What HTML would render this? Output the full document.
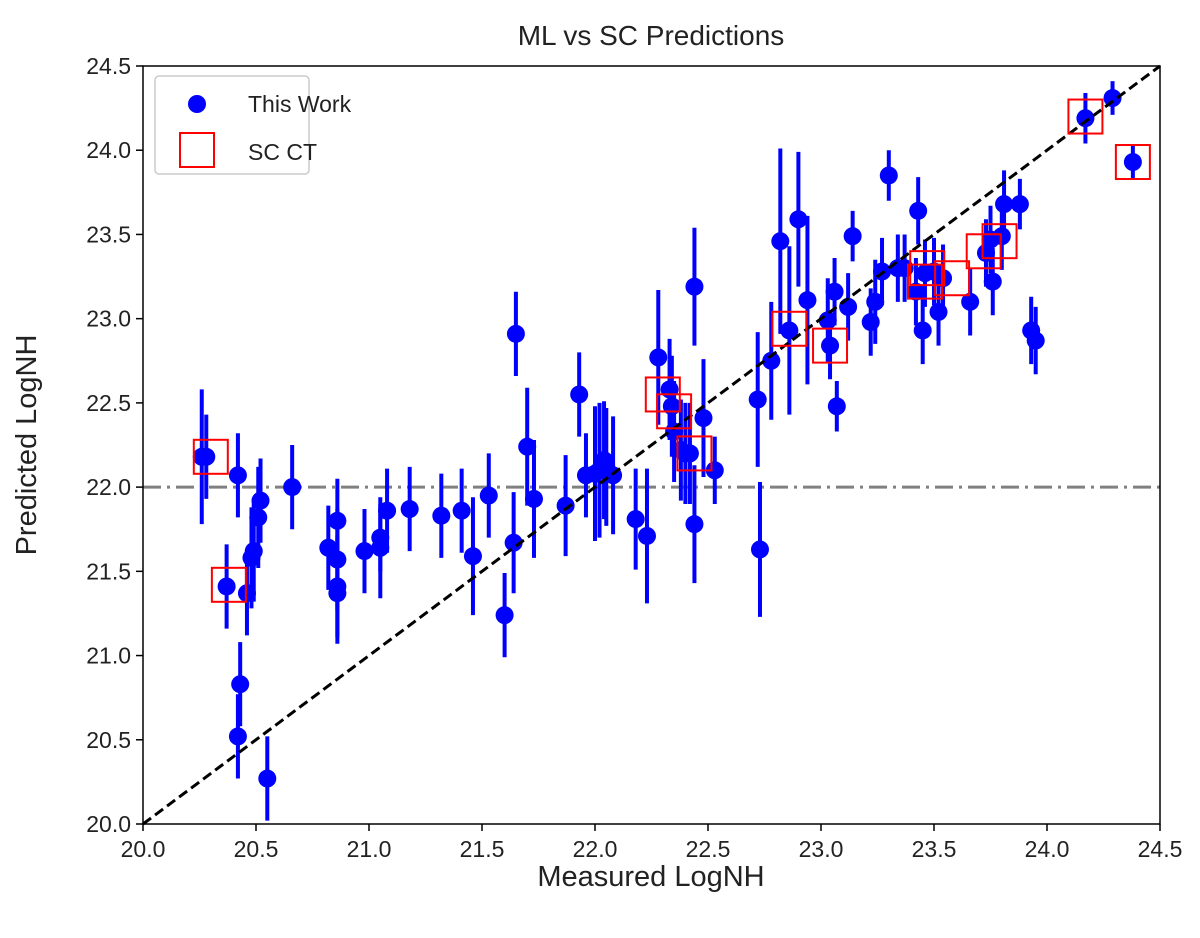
<!DOCTYPE html>
<html><head><meta charset="utf-8"><style>
body{margin:0;background:#fff}
svg text{font-family:"Liberation Sans","DejaVu Sans",sans-serif;fill:#222}
</style></head><body>
<svg id="chart" width="1200" height="933">
<text x="651" y="45" font-size="28" text-anchor="middle">ML vs SC Predictions</text>
<text x="651" y="886" font-size="29" text-anchor="middle">Measured LogNH</text>
<text transform="translate(36,445) rotate(-90)" font-size="29" text-anchor="middle">Predicted LogNH</text>
<g id="ticks"></g><g id="marks"></g>
<rect x="143" y="66" width="1017" height="758" fill="none" stroke="#000" stroke-width="1.5"/>
<g>
<rect x="155" y="76" width="154" height="98" rx="4" fill="#fff" stroke="#ccc" stroke-width="1.5"/>
<circle cx="197" cy="104" r="9" fill="#0000ff"/>
<text x="248" y="112" font-size="23">This Work</text>
<rect x="180" y="133" width="34" height="34" fill="none" stroke="#ff0000" stroke-width="2"/>
<text x="248" y="160" font-size="23">SC CT</text>
</g>
</svg>
<script>
const xTicks=[20.0,20.5,21.0,21.5,22.0,22.5,23.0,23.5,24.0,24.5];
const yTicks=[20.0,20.5,21.0,21.5,22.0,22.5,23.0,23.5,24.0,24.5];
const measured=[20.26,20.28,20.37,20.42,20.42,20.43,20.46,20.48,20.49,20.51,20.52,20.55,20.66,20.82,20.86,20.86,20.86,20.86,20.98,21.05,21.05,21.08,21.18,21.32,21.41,21.46,21.53,21.60,21.64,21.65,21.70,21.73,21.87,21.93,21.96,22.0,22.02,22.04,22.05,22.08,22.18,22.23,22.28,22.33,22.34,22.35,22.38,22.40,22.42,22.44,22.44,22.48,22.53,22.72,22.73,22.78,22.82,22.86,22.90,22.94,23.03,23.04,23.06,23.07,23.12,23.14,23.22,23.24,23.27,23.30,23.34,23.37,23.42,23.43,23.45,23.46,23.50,23.52,23.54,23.66,23.73,23.75,23.76,23.80,23.81,23.88,23.93,23.95,24.17,24.29,24.38];
const predicted=[22.18,22.18,21.41,22.07,20.52,20.83,21.37,21.58,21.62,21.82,21.92,20.27,22.0,21.64,21.80,21.57,21.41,21.37,21.62,21.64,21.70,21.86,21.87,21.83,21.86,21.59,21.95,21.24,21.67,22.91,22.24,21.93,21.89,22.55,22.07,22.08,22.10,22.16,22.12,22.07,21.81,21.71,22.77,22.58,22.48,22.33,22.22,22.20,22.20,23.19,21.78,22.41,22.10,22.52,21.63,22.75,23.46,22.93,23.59,23.11,22.99,22.84,23.16,22.48,23.07,23.49,22.98,23.10,23.28,23.85,23.30,23.30,23.16,23.64,22.93,23.27,23.28,23.04,23.24,23.10,23.39,23.47,23.22,23.49,23.68,23.68,22.93,22.87,24.19,24.31,23.93];
const errs=[0.4,0.25,0.25,0.25,0.25,0.25,0.25,0.3,0.3,0.3,0.25,0.25,0.25,0.25,0.25,0.3,0.3,0.3,0.25,0.3,0.2,0.25,0.25,0.25,0.25,0.35,0.25,0.25,0.3,0.25,0.35,0.35,0.3,0.25,0.25,0.4,0.4,0.35,0.35,0.35,0.3,0.4,0.4,0.3,0.3,0.3,0.3,0.3,0.3,0.35,0.35,0.35,0.2,0.4,0.4,0.35,0.55,0.5,0.4,0.5,0.25,0.2,0.2,0.15,0.2,0.15,0.2,0.25,0.2,0.15,0.2,0.2,0.2,0.2,0.2,0.2,0.2,0.2,0.2,0.2,0.2,0.2,0.2,0.2,0.2,0.15,0.2,0.2,0.15,0.1,0.1];
const scMeasured=[20.30,20.38,22.30,22.35,22.44,22.86,23.04,23.47,23.46,23.58,23.72,23.79,24.17,24.38];
const scPredicted=[22.18,21.42,22.55,22.45,22.20,22.94,22.84,23.30,23.22,23.24,23.40,23.46,24.20,23.93];
const NS='http://www.w3.org/2000/svg';
const X=v=>143+(v-20)*(1017/4.5);
const Y=v=>824-(v-20)*(758/4.5);
function mk(tag,attrs,parent){const e=document.createElementNS(NS,tag);for(const k in attrs)e.setAttribute(k,attrs[k]);parent.appendChild(e);return e;}
const tg=document.getElementById('ticks');
xTicks.forEach(t=>{
  const l=mk('line',{x1:X(t),x2:X(t),y1:824,y2:831,stroke:'#000','stroke-width':1.5},tg);
  
  
  const tx=mk('text',{x:X(t),y:857,'font-size':23,'text-anchor':'middle'},tg);tx.textContent=t.toFixed(1);
  
  
});
yTicks.forEach(t=>{
  const l=mk('line',{x1:136,x2:143,y1:Y(t),y2:Y(t),stroke:'#000','stroke-width':1.5},tg);
  
  
  const tx=mk('text',{x:131,y:Y(t)+8,'font-size':23,'text-anchor':'end'},tg);tx.textContent=t.toFixed(1);
  
  
});
const mg=document.getElementById('marks');
const h=mk('line',{x1:143,x2:1160,y1:Y(22),y2:Y(22),stroke:'#808080','stroke-width':3,'stroke-dasharray':'18,6,3,6'},mg);


measured.forEach((m,i)=>{
  const e=mk('line',{x1:X(m),x2:X(m),y1:Y(predicted[i]-errs[i]),y2:Y(predicted[i]+errs[i]),stroke:'#0000ff','stroke-width':4},mg);
  
  
});
measured.forEach((m,i)=>{
  const c=mk('circle',{cx:X(m),cy:Y(predicted[i]),r:9,fill:'#0000ff'},mg);
  
  
});
const d=mk('line',{x1:X(20),y1:Y(20),x2:X(24.5),y2:Y(24.5),stroke:'#000','stroke-width':3,'stroke-dasharray':'10,5'},mg);


scMeasured.forEach((m,i)=>{
  const r=mk('rect',{x:X(m)-17,y:Y(scPredicted[i])-17,width:34,height:34,fill:'none',stroke:'#ff0000','stroke-width':2},mg);
  
  
});
</script>
</body></html>
